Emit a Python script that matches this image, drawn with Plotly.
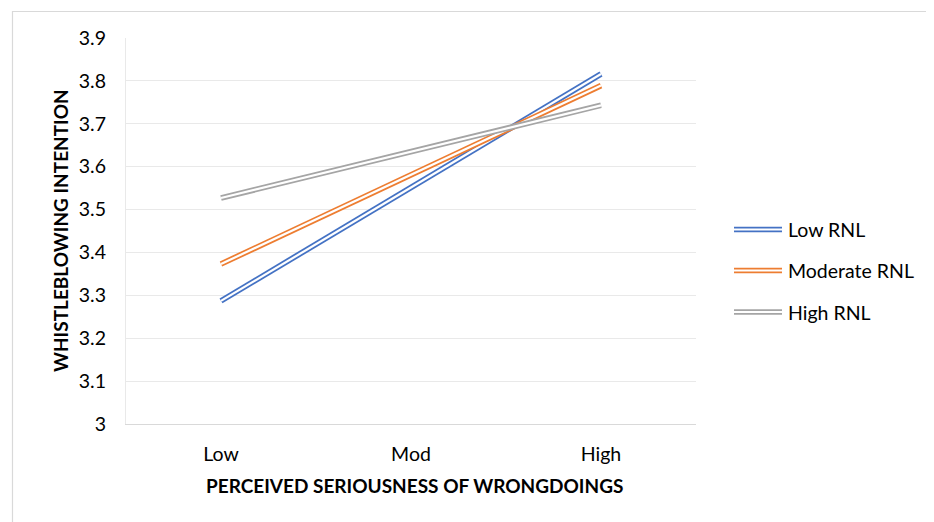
import plotly.graph_objects as go

categories = ["Low", "Mod", "High"]
series_names = ["Low RNL", "Moderate RNL", "High RNL"]
low_rnl = [3.287, 3.552, 3.816]
moderate_rnl = [3.373, 3.581, 3.789]
high_rnl = [3.527, 3.635, 3.743]
y_ticks = [3.0, 3.1, 3.2, 3.3, 3.4, 3.5, 3.6, 3.7, 3.8, 3.9]
colors = ["#4472C4", "#ED7D31", "#A5A5A5"]

FONT = "Lato"
OFF = 8  # page body margin
W, H = 934 - OFF, 522 - OFF
L, R, T, B = 126, 696, 38, 424  # page pixel positions of plot area

fig = go.Figure()
for name, vals, col in zip(series_names, [low_rnl, moderate_rnl, high_rnl], colors):
    fig.add_trace(go.Scatter(x=categories, y=vals, mode="lines", name=name,
                             line=dict(color=col, width=5.7), showlegend=False))
    fig.add_trace(go.Scatter(x=categories, y=vals, mode="lines", name=name,
                             line=dict(color="white", width=2.2), showlegend=False,
                             hoverinfo="skip"))

def px_x(px):
    return (px - L) / (R - L)

def px_y(py):
    return (B - py) / (B - T)

shapes = [
    dict(type="rect", xref="paper", yref="paper", x0=px_x(12.5), x1=px_x(950),
         y0=px_y(540), y1=px_y(11.5), line=dict(color="#D9D9D9", width=1.2),
         fillcolor="rgba(0,0,0,0)", layer="below"),
]
annotations = []
leg_y = [229.5, 270.5, 312]
for name, col, py in zip(series_names, colors, leg_y):
    shapes.append(dict(type="line", xref="paper", yref="paper", x0=px_x(734), x1=px_x(782),
                       y0=px_y(py), y1=px_y(py), line=dict(color=col, width=5.7)))
    shapes.append(dict(type="line", xref="paper", yref="paper", x0=px_x(734), x1=px_x(782),
                       y0=px_y(py), y1=px_y(py), line=dict(color="white", width=2.2)))
    annotations.append(dict(text=name, xref="paper", yref="paper", x=px_x(786), y=px_y(py),
                            xanchor="left", yanchor="middle", showarrow=False,
                            font=dict(family=FONT, size=19.5, color="#000000")))

annotations.append(dict(text="<b>WHISTLEBLOWING INTENTION</b>", xref="paper", yref="paper",
                        x=px_x(60), y=px_y(231), textangle=-90, showarrow=False,
                        xanchor="center", yanchor="middle",
                        font=dict(family=FONT, size=19, color="#000000")))
annotations.append(dict(text="<b>PERCEIVED SERIOUSNESS OF WRONGDOINGS</b>", xref="paper", yref="paper",
                        x=px_x(414), y=px_y(486), showarrow=False,
                        xanchor="center", yanchor="middle",
                        font=dict(family=FONT, size=19, color="#000000")))

fig.update_layout(
    width=W, height=H,
    margin=dict(l=L - OFF, r=W - (R - OFF), t=T - OFF, b=H - (B - OFF)),
    paper_bgcolor="white", plot_bgcolor="white",
    font=dict(family=FONT, size=19.5, color="#000000"),
    shapes=shapes, annotations=annotations,
    showlegend=False,
)
fig.update_xaxes(type="category", range=[-0.5, 2.5], showgrid=False, showline=True,
                 linecolor="#D9D9D9", linewidth=1.2, ticks="", ticklabelstandoff=12,
                 tickfont=dict(family=FONT, size=19.5), zeroline=False)
fig.update_yaxes(range=[3.0, 3.9], tickvals=y_ticks, showgrid=True, gridcolor="#E9E9E9",
                 gridwidth=1.2, showline=True, linecolor="#E9E9E9", linewidth=1.2,
                 ticks="", ticklabelstandoff=15, tickfont=dict(family=FONT, size=19.5),
                 zeroline=False)

fig.write_html("out.html")
